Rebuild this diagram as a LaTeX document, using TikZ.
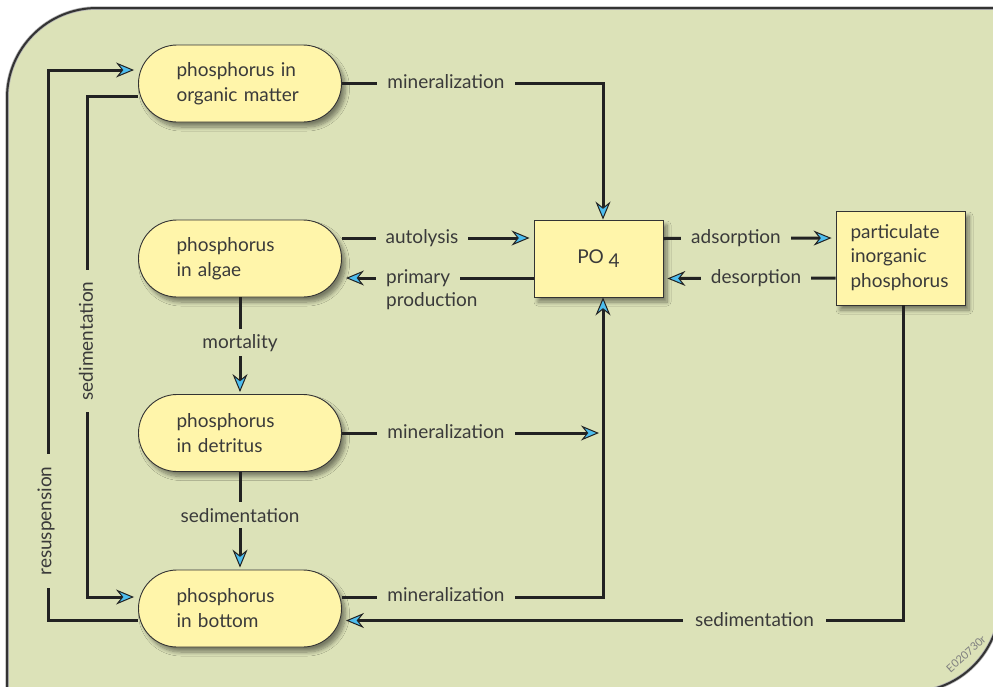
\documentclass[tikz,border=0pt]{standalone}
\usepackage{fontspec}
\setmainfont{Lato}
\usetikzlibrary{arrows.meta,shadows.blur}
\definecolor{panel}{HTML}{DCE2B8}
\definecolor{boxfill}{HTML}{FFF5AA}
\definecolor{tipblue}{HTML}{4DBDEE}
\definecolor{ink}{HTML}{3A3A3A}
\definecolor{wire}{HTML}{222222}

\begin{document}
\begin{tikzpicture}[x=1pt,y=-1pt,
  font=\fontsize{19}{25}\selectfont, text=ink,
  boxshadow/.style={blur shadow={shadow xshift=4pt, shadow yshift=-5pt,
      shadow blur radius=4pt, shadow blur steps=8, shadow opacity=45}},
  pool/.style={draw=black!80, line width=0.9pt, fill=boxfill,
      rounded corners=38.5pt, minimum width=203pt, minimum height=77pt,
      text width=127pt, inner xsep=38pt, inner ysep=0pt, align=left, boxshadow},
  store/.style={draw=black!80, line width=0.9pt, fill=boxfill,
      minimum height=77pt, inner ysep=0pt, boxshadow},
  flow/.style={draw=wire, line width=3pt,
      -{Stealth[length=18pt, width=15pt, inset=6pt, fill=tipblue, line width=1pt]}},
  lbl/.style={fill=panel, inner xsep=10pt, inner ysep=3pt, text=ink},
  vlbl/.style={fill=panel, inner xsep=12pt, inner ysep=2pt, text=ink, rotate=90}
]
\useasboundingbox (0,0) rectangle (993,686);

% panel with two rounded corners
\fill[panel] (7,700) -- (7,98) .. controls (7,48.3) and (47.3,8) .. (97,8)
  -- (1000,8) -- (1000,602) .. controls (1000,651.7) and (959.7,692) .. (910,692) -- cycle;
\draw[gray!60, line width=3.5pt] (7,700) -- (7,98) .. controls (7,48.3) and (47.3,8) .. (97,8)
  -- (1000,8) -- (1000,602) .. controls (1000,651.7) and (959.7,692) .. (910,692);
\draw[black!80, line width=2pt] (7,700) -- (7,98) .. controls (7,48.3) and (47.3,8) .. (97,8)
  -- (1000,8) -- (1000,602) .. controls (1000,651.7) and (959.7,692) .. (910,692);

% pools
\node[pool] (om) at (240,83.5) {phosphorus in\\organic matter};
\node[pool] (al) at (240,258.5) {phosphorus\\in algae};
\node[pool] (de) at (240,433) {phosphorus\\in detritus};
\node[pool] (bo) at (240,608.5) {phosphorus\\in bottom};
\node[store, minimum width=129pt] (po4) at (598.5,258.5) {PO\ \raisebox{-0.4ex}{4}};
\node[store, minimum width=129pt, minimum height=94pt, text width=100pt,
      inner xsep=14.5pt, align=left] (pip) at (900.5,258)
      {\fontsize{19}{24}\selectfont particulate\\inorganic\\phosphorus};

% helper columns
\coordinate (jx) at (603,0);
\coordinate (xs) at (87,0);
\coordinate (xr) at (48,0);
\coordinate (omA) at ([yshift=-12.5pt]om.west);
\coordinate (omB) at ([yshift=13.5pt]om.west);
\coordinate (boA) at ([yshift=11.5pt]bo.west);
\coordinate (boB) at ([yshift=-12pt]bo.west);

% organic matter -> PO4
\draw[flow] (om.east) -| ([xshift=4.5pt]po4.north);
\node[lbl, anchor=base] (min1) at (446,88) {mineralization};

% algae <-> PO4
\draw[flow, shorten >=4pt] ([yshift=20.5pt]al.east) -- ([yshift=20.5pt]po4.west);
\node[lbl, anchor=base] (aut) at (422,243) {autolysis};
\draw[flow, shorten >=4pt] ([yshift=-19.5pt]po4.west) -- ([yshift=-19.5pt]al.east);
\node[lbl, anchor=base west] (pp1) at (376,283) {primary};
\node[anchor=base west, inner xsep=10pt] (pp2) at (376,306) {production};

% PO4 <-> particulate inorganic phosphorus
\draw[flow, shorten >=4pt] ([yshift=20pt]po4.east) -- ([yshift=20pt]pip.west);
\node[lbl, anchor=base] (ads) at (736,243) {adsorption};
\draw[flow, shorten >=4pt] ([yshift=-20pt]pip.west) -- ([yshift=-20pt]po4.east);
\node[lbl, anchor=base] (des) at (756,283) {desorption};

% algae -> detritus
\draw[flow, shorten >=2pt] (al.south) -- (de.north);
\node[lbl, anchor=base, inner ysep=5pt] (mort) at (240,348) {mortality};

% detritus -> PO4 column
\draw[flow, shorten >=4pt] (de.east) -- (de.east -| jx);
\node[lbl, anchor=base] (min2) at (446,438) {mineralization};

% detritus -> bottom
\draw[flow, shorten >=2pt] (de.south) -- (bo.north);
\node[lbl, anchor=base, inner ysep=6pt] (sed1) at (240,522) {sedimentation};

% bottom -> PO4
\draw[flow] ([yshift=11.5pt]bo.east) -| ([xshift=4.5pt]po4.south);
\node[lbl, anchor=base] (min3) at (446,601) {mineralization};

% particulate -> bottom
\draw[flow, shorten >=4pt] ([xshift=2.5pt]pip.south) |- ([yshift=-12pt]bo.east);
\node[lbl, anchor=base, inner xsep=12pt] (sed2) at (754.5,626) {sedimentation};

% organic matter -> bottom (left loop)
\draw[flow, shorten >=4pt] (omA) -- (omA -| xs) -- (boA -| xs) -- (boA);
\node[vlbl] (sed3) at (86,341) {sedimentation};

% bottom -> organic matter (outer loop)
\draw[flow, shorten >=4pt] (boB) -- (boB -| xr) -- (omB -| xr) -- (omB);
\node[vlbl] (res) at (46,521) {resuspension};

% drawing number
\node[rotate=42, text=black!50, font=\fontsize{11}{11}\selectfont] (code) at (966,654) {E020730r};
\end{tikzpicture}
\end{document}
